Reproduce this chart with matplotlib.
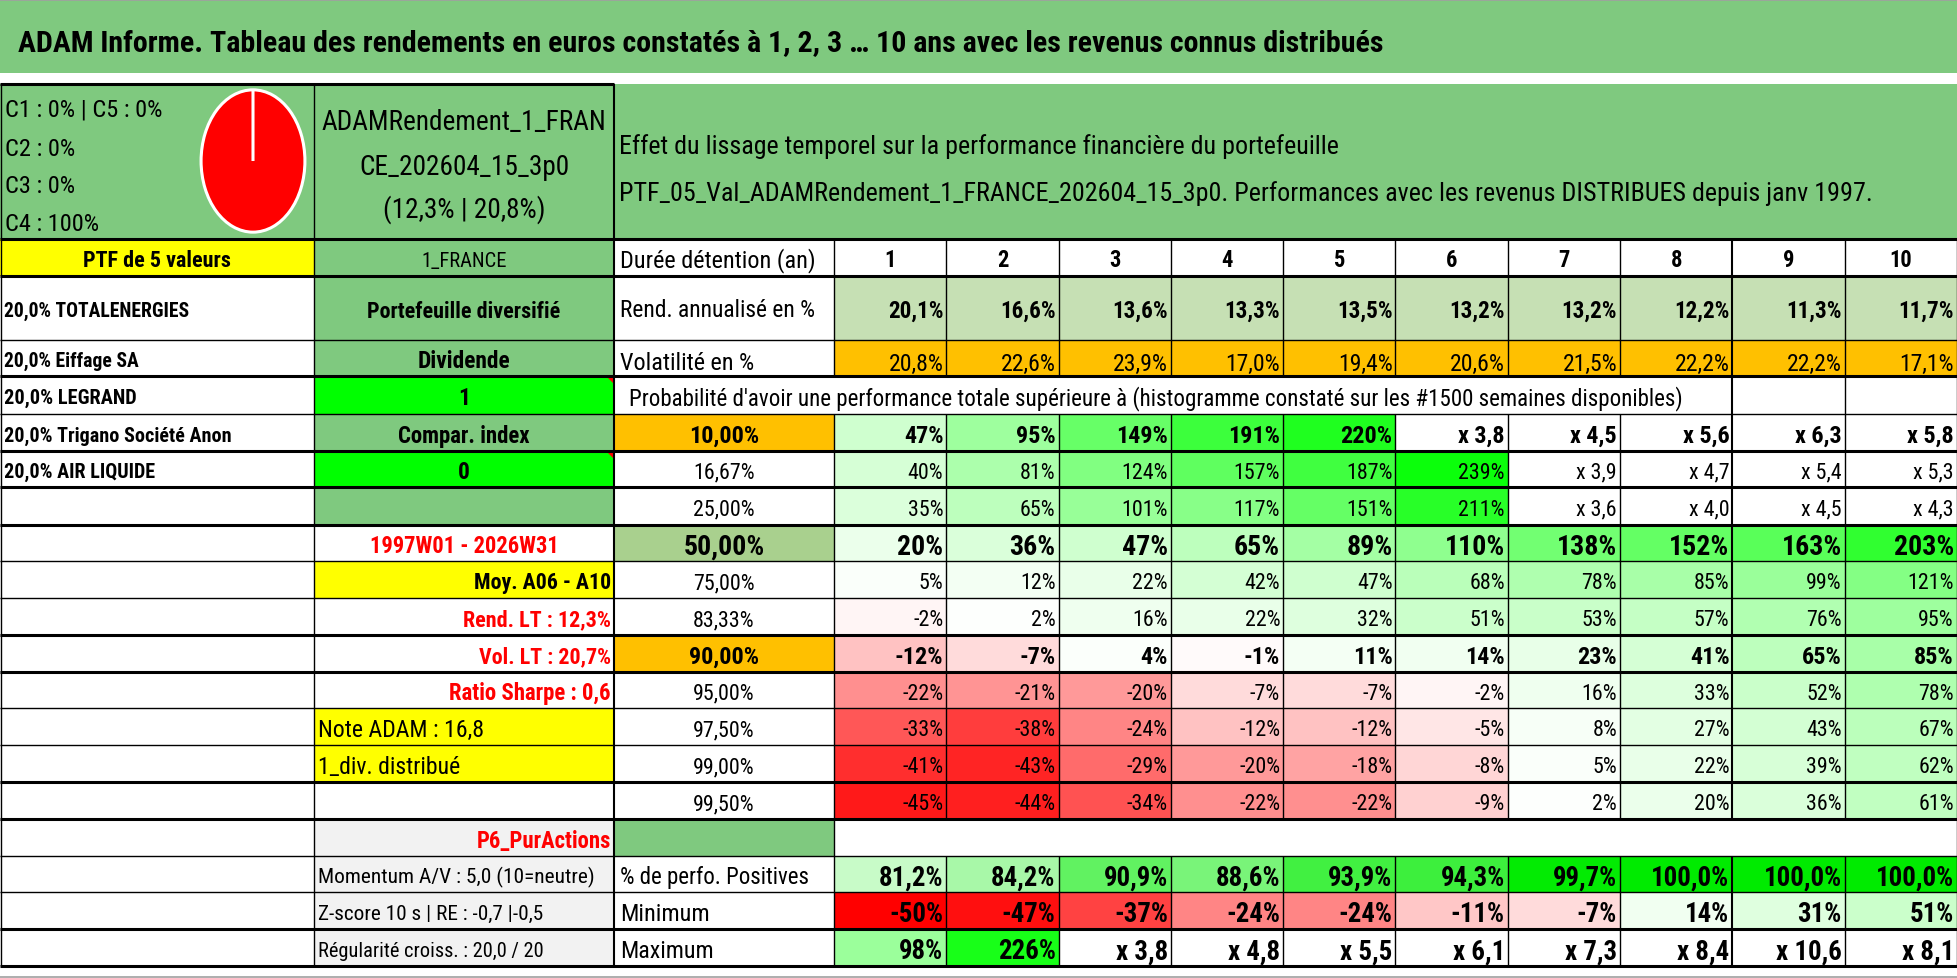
import matplotlib
matplotlib.use("Agg")
import matplotlib.pyplot as plt
from matplotlib import font_manager
from matplotlib.patches import Rectangle, Polygon
from matplotlib.textpath import TextPath

GREEN = "#7FC97F"
BRIGHT_GREEN = "#00FF00"
YELLOW = "#FFFF00"
ORANGE = "#FFC000"
PALE_GREEN = "#C6E0B4"
MID_GREEN = "#A9D08E"
LIGHT_GREY = "#F2F2F2"
RED_TEXT = "#FF0000"
BLACK = "#000000"
WHITE = "#FFFFFF"

# ---- data ----
title = ("ADAM Informe. Tableau des rendements en euros constatés à 1, 2, 3 … 10 ans "
         "avec les revenus connus distribués")
ptf_name = ["ADAMRendement_1_FRAN", "CE_202604_15_3p0", "(12,3% | 20,8%)"]
subtitle = [
    "Effet du lissage temporel sur la performance financière du portefeuille",
    "PTF_05_Val_ADAMRendement_1_FRANCE_202604_15_3p0. Performances avec les revenus "
    "DISTRIBUES depuis janv 1997.",
]
classes = ["C1", "C2", "C3", "C4", "C5"]
classes_pct = [0, 0, 0, 100, 0]
classes_colors = ["#4472C4", "#ED7D31", "#A5A5A5", "#FF0000", "#5B9BD5"]

valeurs = ["TOTALENERGIES", "Eiffage SA", "LEGRAND", "Trigano Société Anon", "AIR LIQUIDE"]
poids = [20.0, 20.0, 20.0, 20.0, 20.0]

infos_b = ["1_FRANCE", "Portefeuille diversifié", "Dividende", "1", "Compar. index", "0", "",
           "1997W01 - 2026W31", "Moy. A06 - A10", "Rend. LT : 12,3%", "Vol. LT : 20,7%",
           "Ratio Sharpe : 0,6", "Note ADAM : 16,8", "1_div. distribué", "",
           "P6_PurActions", "Momentum A/V : 5,0 (10=neutre)",
           "Z-score 10 s | RE : -0,7 |-0,5", "Régularité croiss. : 20,0 / 20"]

annees = [1, 2, 3, 4, 5, 6, 7, 8, 9, 10]
rendement = [20.1, 16.6, 13.6, 13.3, 13.5, 13.2, 13.2, 12.2, 11.3, 11.7]
volatilite = [20.8, 22.6, 23.9, 17.0, 19.4, 20.6, 21.5, 22.2, 22.2, 17.1]

seuils = ["10,00%", "16,67%", "25,00%", "50,00%", "75,00%", "83,33%", "90,00%",
          "95,00%", "97,50%", "99,00%", "99,50%"]
perf_10 = [47, 95, 149, 191, 220, "x 3,8", "x 4,5", "x 5,6", "x 6,3", "x 5,8"]
perf_1667 = [40, 81, 124, 157, 187, 239, "x 3,9", "x 4,7", "x 5,4", "x 5,3"]
perf_25 = [35, 65, 101, 117, 151, 211, "x 3,6", "x 4,0", "x 4,5", "x 4,3"]
perf_50 = [20, 36, 47, 65, 89, 110, 138, 152, 163, 203]
perf_75 = [5, 12, 22, 42, 47, 68, 78, 85, 99, 121]
perf_8333 = [-2, 2, 16, 22, 32, 51, 53, 57, 76, 95]
perf_90 = [-12, -7, 4, -1, 11, 14, 23, 41, 65, 85]
perf_95 = [-22, -21, -20, -7, -7, -2, 16, 33, 52, 78]
perf_975 = [-33, -38, -24, -12, -12, -5, 8, 27, 43, 67]
perf_99 = [-41, -43, -29, -20, -18, -8, 5, 22, 39, 62]
perf_995 = [-45, -44, -34, -22, -22, -9, 2, 20, 36, 61]
perf_rows = [perf_10, perf_1667, perf_25, perf_50, perf_75, perf_8333, perf_90,
             perf_95, perf_975, perf_99, perf_995]

pct_positives = [81.2, 84.2, 90.9, 88.6, 93.9, 94.3, 99.7, 100.0, 100.0, 100.0]
minimum = [-50, -47, -37, -24, -24, -11, -7, 14, 31, 51]
maximum = [98, 226, "x 3,8", "x 4,8", "x 5,5", "x 6,1", "x 7,3", "x 8,4", "x 10,6", "x 8,1"]


# ---- fonts ----
def pick_font():
    for name in ["Liberation Sans Narrow", "Roboto Condensed", "DejaVu Sans Condensed",
                 "Open Sans Condensed", "Liberation Sans"]:
        try:
            font_manager.findfont(font_manager.FontProperties(family=name),
                                  fallback_to_default=False)
            return name
        except ValueError:
            pass
    return "DejaVu Sans"


FONT = pick_font()


def width_px(s, size, weight="normal"):
    fp = font_manager.FontProperties(family=FONT, weight=weight)
    return TextPath((0, 0), s, size=size, prop=fp).get_extents().width * 100 / 72


def fit(s, target, weight="normal"):
    # font size (pt) giving an ink width of `target` pixels
    return 10 * target / width_px(s, 10, weight)


def fr(v):
    return f"{v:.1f}".replace(".", ",") + "%"


def heat(v, gmax=250.0, rmax=50.0):
    if isinstance(v, str):
        return WHITE
    if v >= 0:
        t = min(v / gmax, 1.0)
        return (1 - t, 1.0, 1 - t)
    t = min(-v / rmax, 1.0)
    return (1.0, 1 - t, 1 - t)


# ---- layout ----
W, H = 1958, 979
fig = plt.figure(figsize=(W / 100, H / 100), dpi=100)
ax = fig.add_axes([0, 0, 1, 1])
ax.set_xlim(0, W)
ax.set_ylim(H, 0)
ax.axis("off")

ROW_Y = [240, 277, 341, 377, 415, 452, 488, 526, 562, 599, 636, 673, 709, 746, 783,
         820, 857, 893, 930, 967]
THICK_Y = {240, 277, 377, 452, 488, 526, 636, 673, 783, 820, 930, 967}
XA, XB, XC, XD = 0, 314, 614, 834
XEND = 1957
DATA_X = [XD + i * (XEND - XD) / 10 for i in range(11)]
rows = list(zip(ROW_Y[:-1], ROW_Y[1:]))


def cell(x0, x1, y0, y1, fc):
    ax.add_patch(Rectangle((x0, y0), x1 - x0, y1 - y0, facecolor=fc, edgecolor="none", zorder=1))


def put(x, yc, s, size, ha="left", weight="normal", color=BLACK):
    ax.text(x, yc + 0.36 * size * 100 / 72, s, fontsize=size, ha=ha, va="baseline",
            fontweight=weight, color=color, family=FONT, zorder=4)


def put_w(x, yc, s, target, ha="left", weight="normal", color=BLACK):
    put(x, yc, s, min(fit(s, target, weight), 24), ha=ha, weight=weight, color=color)


def hline(y, x0, x1, lw):
    ax.plot([x0, x1], [y, y], color=BLACK, lw=lw, solid_capstyle="butt", zorder=3)


def vline(x, y0, y1, lw):
    ax.plot([x, x], [y0, y1], color=BLACK, lw=lw, solid_capstyle="butt", zorder=3)


def mid(i):
    return (rows[i][0] + rows[i][1]) / 2 + 1


# title band
cell(0, W, 1, 74, GREEN)
ax.plot([0, W], [0.5, 0.5], color="#A0A0A0", lw=1.2, zorder=3)
put(18, 40, title, fit(title, 1363, "bold"), weight="bold")

# header block
cell(XA, XB, 85, 240, GREEN)
cell(XB, XC, 85, 240, GREEN)
cell(XC, W, 85, 240, GREEN)
cls_lines = [f"{classes[0]} : {classes_pct[0]}% | {classes[4]} : {classes_pct[4]}%",
             f"{classes[1]} : {classes_pct[1]}%", f"{classes[2]} : {classes_pct[2]}%",
             f"{classes[3]} : {classes_pct[3]}%"]
cls_size = fit(cls_lines[0], 155)
for yc, s in zip([108, 147, 184, 222], cls_lines):
    put(5, yc, s, cls_size)

name_size = fit(ptf_name[0], 282)
for yc, s in zip([120, 165, 208], ptf_name):
    put((XB + XC) / 2, yc, s, name_size, ha="center")

sub_size = fit(subtitle[1], 1250)
for yc, s in zip([145, 192], subtitle):
    put(619, yc, s, sub_size)

pie_ax = fig.add_axes([(253 - 54) / W, 1 - (162 + 74) / H, 108 / W, 148 / H])
pie_ax.pie(classes_pct, colors=classes_colors, startangle=90, counterclock=False,
           wedgeprops={"edgecolor": "white", "linewidth": 2.2})
pie_ax.set_aspect("auto")
pie_ax.set_xlim(-1.04, 1.04)
pie_ax.set_ylim(-1.04, 1.04)
pie_ax.axis("off")

# ---- column A ----
cell(XA, XB, rows[0][0], rows[0][1], YELLOW)
put_w((XA + XB) / 2, mid(0), "PTF de 5 valeurs", 145, ha="center", weight="bold")
a_widths = [184, 134, 131, 225, 151]
for i, (nom, p, w) in enumerate(zip(valeurs, poids, a_widths)):
    put_w(4, mid(i + 1), f"{p:.1f}".replace(".", ",") + "% " + nom, w, weight="bold")

# ---- column B ----
b_fill = [GREEN, GREEN, GREEN, BRIGHT_GREEN, GREEN, BRIGHT_GREEN, GREEN, WHITE, YELLOW, WHITE,
          WHITE, WHITE, YELLOW, YELLOW, WHITE, LIGHT_GREY, LIGHT_GREY, LIGHT_GREY, LIGHT_GREY]
b_align = ["center"] * 8 + ["right"] * 4 + ["left"] * 3 + ["right"] + ["left"] * 3
b_red = {7, 9, 10, 11, 15}
b_width = [83, 190, 91, 0, 131, 0, 0, 184, 135, 146, 131, 160, 163, 140, 0,
           132, 274, 224, 223]
b_bold = {1, 2, 3, 4, 5, 7, 8, 9, 10, 11, 15}
flag_size = fit("Dividende", 91, "bold")
for i, (y0, y1) in enumerate(rows):
    cell(XB, XC, y0, y1, b_fill[i])
    s = infos_b[i]
    if not s:
        continue
    ha = b_align[i]
    x = {"center": (XB + XC) / 2, "right": XC - 3, "left": XB + 4}[ha]
    wt = "bold" if i in b_bold else "normal"
    col = RED_TEXT if i in b_red else BLACK
    if b_width[i]:
        put_w(x, mid(i), s, b_width[i], ha=ha, weight=wt, color=col)
    else:
        put(x, mid(i), s, flag_size, ha=ha, weight=wt, color=col)
for i in (3, 5):
    y0 = rows[i][0]
    ax.add_patch(Polygon([(XC - 8, y0), (XC, y0), (XC, y0 + 8)], closed=True,
                         facecolor="#FF0000", edgecolor="none", zorder=2))

# ---- column C + data ----
cen = [(DATA_X[j] + DATA_X[j + 1]) / 2 for j in range(10)]
rgt = [DATA_X[j + 1] - 3 for j in range(10)]

put_w(620, mid(0) - 1, "Durée détention (an)", 192)
year_size = fit("10", 20, "bold")
for j, a in enumerate(annees):
    put(cen[j], mid(0) - 1, str(a), year_size, ha="center", weight="bold")

y0, y1 = rows[1]
put_w(620, mid(1) - 1, "Rend. annualisé en %", 193)
rend_size = fit("20,1%", 53.6, "bold")
for j, v in enumerate(rendement):
    cell(DATA_X[j], DATA_X[j + 1], y0, y1, PALE_GREEN)
    put(rgt[j], mid(1) - 1, fr(v), rend_size, ha="right", weight="bold")

y0, y1 = rows[2]
put_w(620, mid(2) + 1, "Volatilité en %", 133)
vol_size = fit("20,8%", 52.7)
for j, v in enumerate(volatilite):
    cell(DATA_X[j], DATA_X[j + 1], y0, y1, ORANGE)
    put(rgt[j], mid(2) + 2, fr(v), vol_size, ha="right")

prob = ("Probabilité d'avoir une performance totale supérieure à (histogramme constaté "
        "sur les #1500 semaines disponibles)")
put_w(629, mid(3), prob, 1048)

bold_size = fit("47%", 38, "bold")
big_size = fit("20%", 43.75, "bold")
norm_size = fit("40%", 34)
row_size = {0: bold_size, 3: big_size, 6: bold_size}
seuil_fill = {0: ORANGE, 3: MID_GREEN, 6: ORANGE}
for k, (seuil, vals) in enumerate(zip(seuils, perf_rows)):
    y0, y1 = rows[4 + k]
    cell(XC, XD, y0, y1, seuil_fill.get(k, WHITE))
    size = row_size.get(k, norm_size)
    wt = "bold" if k in row_size else "normal"
    put((XC + XD) / 2, mid(4 + k), seuil, size, ha="center", weight=wt)
    for j, v in enumerate(vals):
        cell(DATA_X[j], DATA_X[j + 1], y0, y1, heat(v))
        put(rgt[j], mid(4 + k), v if isinstance(v, str) else f"{v}%", size, ha="right",
            weight=wt)

y0, y1 = rows[15]
cell(XC, XD, y0, y1, GREEN)

bottom_labels = ["% de perfo. Positives", "Minimum", "Maximum"]
bottom_widths = [187, 86, 90]
for k, (lab, w) in enumerate(zip(bottom_labels, bottom_widths)):
    put_w(620, mid(16 + k), lab, w)
low_size = fit("81,2%", 62, "bold")
for j, v in enumerate(pct_positives):
    y0, y1 = rows[16]
    t = max(0.0, min((v - 76) / 24, 1.0))
    cell(DATA_X[j], DATA_X[j + 1], y0, y1, (1 - t, 1 - 0.08 * t, 1 - t))
    put(rgt[j], mid(16), fr(v), low_size, ha="right", weight="bold")
for j, v in enumerate(minimum):
    y0, y1 = rows[17]
    cell(DATA_X[j], DATA_X[j + 1], y0, y1, heat(v))
    put(rgt[j], mid(17), f"{v}%", low_size, ha="right", weight="bold")
for j, v in enumerate(maximum):
    y0, y1 = rows[18]
    cell(DATA_X[j], DATA_X[j + 1], y0, y1, heat(v))
    put(rgt[j], mid(18), v if isinstance(v, str) else f"{v}%", low_size,
        ha="right", weight="bold")

# ---- grid lines ----
THICK, THIN = 2.2, 1.0
hline(85, XA, XC, THICK)
for y in ROW_Y:
    hline(y, XA, XEND, THICK if y in THICK_Y else THIN)
vline(XA + 0.5, 85, 967, THIN)
vline(XB, 85, 967, THIN)
vline(XC, 85, 967, 1.5)
for i, (y0, y1) in enumerate(rows):
    if i == 3:
        xs = [DATA_X[8], DATA_X[9], XEND]
    elif i == 15:
        xs = [XD, XEND]
    else:
        xs = DATA_X
    for x in xs:
        vline(x, y0, y1, 1.5 if abs(x - DATA_X[8]) < 1 else THIN)

ax.plot([0, W], [978, 978], color="#A0A0A0", lw=1.2, zorder=3)

fig.savefig("out.png", dpi=100)
